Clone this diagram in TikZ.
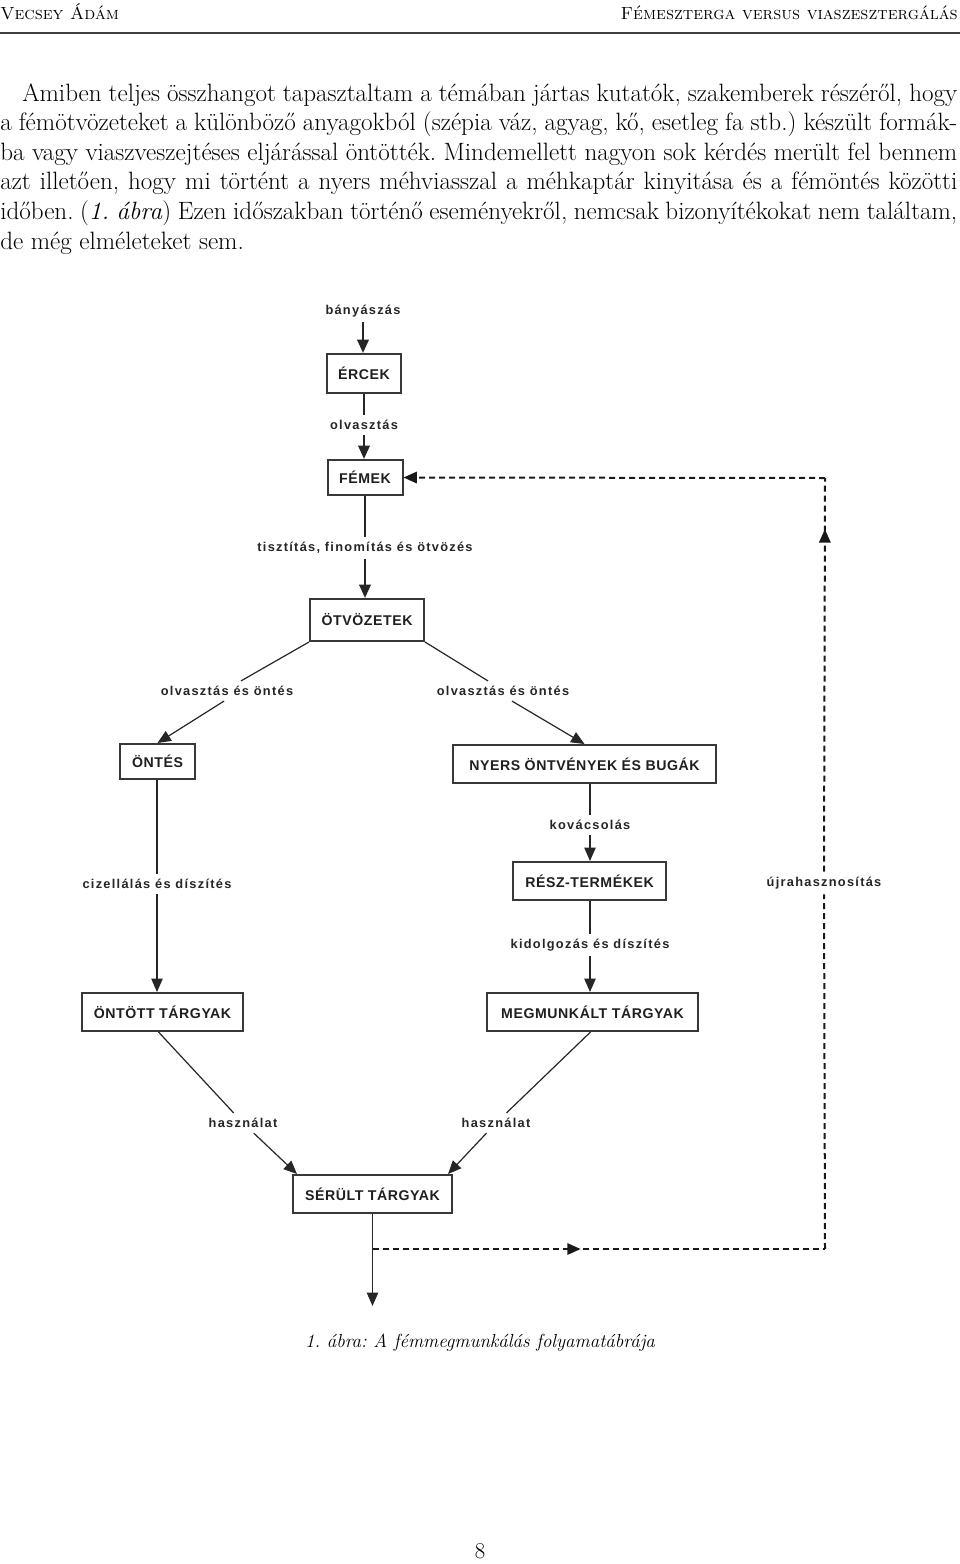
\documentclass[tikz,border=0pt]{standalone}
\usepackage{fontspec}
\usetikzlibrary{arrows.meta,calc,decorations.markings}
\newfontfamily\dia[LetterSpace=10]{Liberation Sans}
\newfontfamily\diabox[LetterSpace=4]{Liberation Sans}
\newcommand{\paraline}[2]{\makebox[#1][s]{#2}}
\tikzset{
  box/.style={draw=black!78, line width=1.5pt, fill=white, inner sep=0pt,
    font=\diabox\bfseries\fontsize{10.6}{12}\selectfont, text=black!88},
  lab/.style={font=\dia\bfseries\fontsize{9.6}{11}\selectfont, inner sep=1pt,
    outer sep=3pt, text=black!85},
  conn/.style={line width=0.9pt, draw=black!85},
  thickconn/.style={line width=1.8pt, draw=black!85},
  arr/.style={-{Triangle[length=10pt,width=8.5pt]}},
  dloop/.style={line width=1.5pt, draw=black!90, dash pattern=on 4.5pt off 3pt},
  ptext/.style={inner sep=0pt, anchor=base west, font=\fontsize{18.8}{21}\selectfont},
}
\begin{document}
\frenchspacing
\begin{tikzpicture}[x=0.75pt,y=-0.75pt]
\fill[white] (0,0) rectangle (960,1564);
\useasboundingbox (0,0) rectangle (960,1564);

% header
\node[inner sep=0pt, anchor=base west, font=\fontsize{13.2}{15}\selectfont] (hl) at (0,19.5) {\textsc{Vecsey Ádám}};
\node[inner sep=0pt, anchor=base east, font=\fontsize{13.2}{15}\selectfont] (hr) at (958,19.5) {\textsc{Fémeszterga versus viaszesztergálás}};
\draw[line width=1.1pt, black!75] (0,33) -- (960,33);

% paragraph
\node[ptext] (p1) at (22,101) {\paraline{701.25pt}{Amiben teljes összhangot tapasztaltam a témában jártas kutatók, szakemberek részéről, hogy}};
\node[ptext] (p2) at (0,130.6) {\paraline{717.75pt}{a fémötvözeteket a különböző anyagokból (szépia váz, agyag, kő, esetleg fa stb.) készült formák-}};
\node[ptext] (p3) at (0,160.2) {\paraline{717.75pt}{ba vagy viaszveszejtéses eljárással öntötték. Mindemellett nagyon sok kérdés merült fel bennem}};
\node[ptext] (p4) at (0,189.8) {\paraline{717.75pt}{azt illetően, hogy mi történt a nyers méhviasszal a méhkaptár kinyitása és a fémöntés közötti}};
\node[ptext] (p5) at (0,219.4) {\paraline{717.75pt}{időben. (\textit{1. ábra}) Ezen időszakban történő eseményekről, nemcsak bizonyítékokat nem találtam,}};
\node[ptext] (p6) at (0,249) {de még elméleteket sem.};

% boxes
\node[box, minimum width=55.5pt, minimum height=29.25pt] (ercek) at (364,373.5) {ÉRCEK};
\node[box, minimum width=56.25pt, minimum height=26.25pt] (femek) at (365,477.5) {FÉMEK};
\node[box, minimum width=85.5pt, minimum height=31.5pt] (otv) at (367,620) {ÖTVÖZETEK};
\node[box, minimum width=56.25pt, minimum height=26.25pt] (ontes) at (157.5,761.5) {ÖNTÉS};
\node[box, minimum width=197.25pt, minimum height=28.5pt] (nyers) at (584.5,764) {NYERS ÖNTVÉNYEK ÉS BUGÁK};
\node[box, minimum width=114.75pt, minimum height=28.5pt] (resz) at (589.5,881) {RÉSZ-TERMÉKEK};
\node[box, minimum width=120.75pt, minimum height=28.5pt] (onto) at (162.5,1012) {ÖNTÖTT TÁRGYAK};
\node[box, minimum width=158.25pt, minimum height=28.5pt] (megm) at (592.5,1012) {MEGMUNKÁLT TÁRGYAK};
\node[box, minimum width=119.25pt, minimum height=28.5pt] (ser) at (372.5,1194) {SÉRÜLT TÁRGYAK};

% labels
\node[lab] (lbany) at (363,311) {bányászás};
\node[lab] (lolv) at (364,425) {olvasztás};
\node[lab] (ltisz) at (365,548) {tisztítás, finomítás és ötvözés};
\node[lab] (lo1) at (227,691) {olvasztás és öntés};
\node[lab] (lo2) at (503,691) {olvasztás és öntés};
\node[lab] (lkov) at (590,825) {kovácsolás};
\node[lab] (lciz) at (157,884) {cizellálás és díszítés};
\node[lab] (lkid) at (590,945) {kidolgozás és díszítés};
\node[lab] (lh1) at (243,1123) {használat};
\node[lab] (lh2) at (496,1123) {használat};
\node[lab] (lujra) at (824,883) {újrahasznosítás};

% top column
\draw[thickconn, arr] (lbany) -- (lbany |- ercek.north);
\draw[conn, line width=1.2pt] (ercek) -- (lolv);
\draw[thickconn, arr] (lolv) -- (lolv |- femek.north);
\draw[thickconn] (femek) -- (ltisz);
\draw[thickconn, arr] (ltisz) -- (ltisz |- otv.north);

% branches from alloys
\draw[conn] (otv.south west) -- ($(lo1.north)+(14,0)$);
\draw[conn, arr] ($(lo1.south)+(-3,0)$) -- (ontes.north);
\draw[conn] (otv.south east) -- ($(lo2.north)+(-15,0)$);
\draw[conn, arr] ($(lo2.south)+(9,0)$) -- (nyers.north);

% left column
\draw[conn] (ontes.south -| lciz) -- (lciz);
\draw[conn, arr] (lciz) -- (lciz |- onto.north);

% right column
\draw[conn] (nyers.south -| lkov) -- (lkov);
\draw[conn, arr] (lkov) -- (lkov |- resz.north);
\draw[conn] (resz.south -| lkid) -- (lkid);
\draw[conn, arr] (lkid) -- (lkid |- megm.north);

% to damaged objects
\draw[conn] ($(onto.south)+(-4,0)$) -- (lh1);
\draw[conn, arr] (lh1) -- ($(ser.north west)+(5,0)$);
\draw[conn] ($(megm.south)+(-2,0)$) -- (lh2);
\draw[conn, arr] (lh2) -- ($(ser.north east)+(-5,0)$);

% bottom exit
\coordinate (endpt) at (372.5,1306);
\coordinate (c1) at (372.5,1249);
\coordinate (c2) at (825,1249);
\coordinate (c3) at (825,478);
\draw[conn, arr] (ser.south) -- (endpt);

% recycling loop
\draw[dloop, postaction={decorate, decoration={markings, mark=at position 0.46 with {\arrow[solid]{Triangle[length=10pt,width=8.5pt]}}}}] (c1) -- (c2);
\draw[dloop] (c2) -- (lujra);
\draw[dloop, postaction={decorate, decoration={markings, mark=at position 0.87 with {\arrow[solid]{Triangle[length=10pt,width=8.5pt]}}}}] (lujra) -- (c3);
\draw[dloop, -{Triangle[length=10pt,width=8.5pt]}] (c3) -- (femek.east);

% caption and page number
\node[inner sep=0pt, font=\fontsize{14.2}{17}\selectfont\itshape] (cap) at (480,1343) {1. ábra: A fémmegmunkálás folyamatábrája};
\node[inner sep=0pt, font=\fontsize{17}{20}\selectfont] (pg) at (480,1551) {8};
\end{tikzpicture}
\end{document}
